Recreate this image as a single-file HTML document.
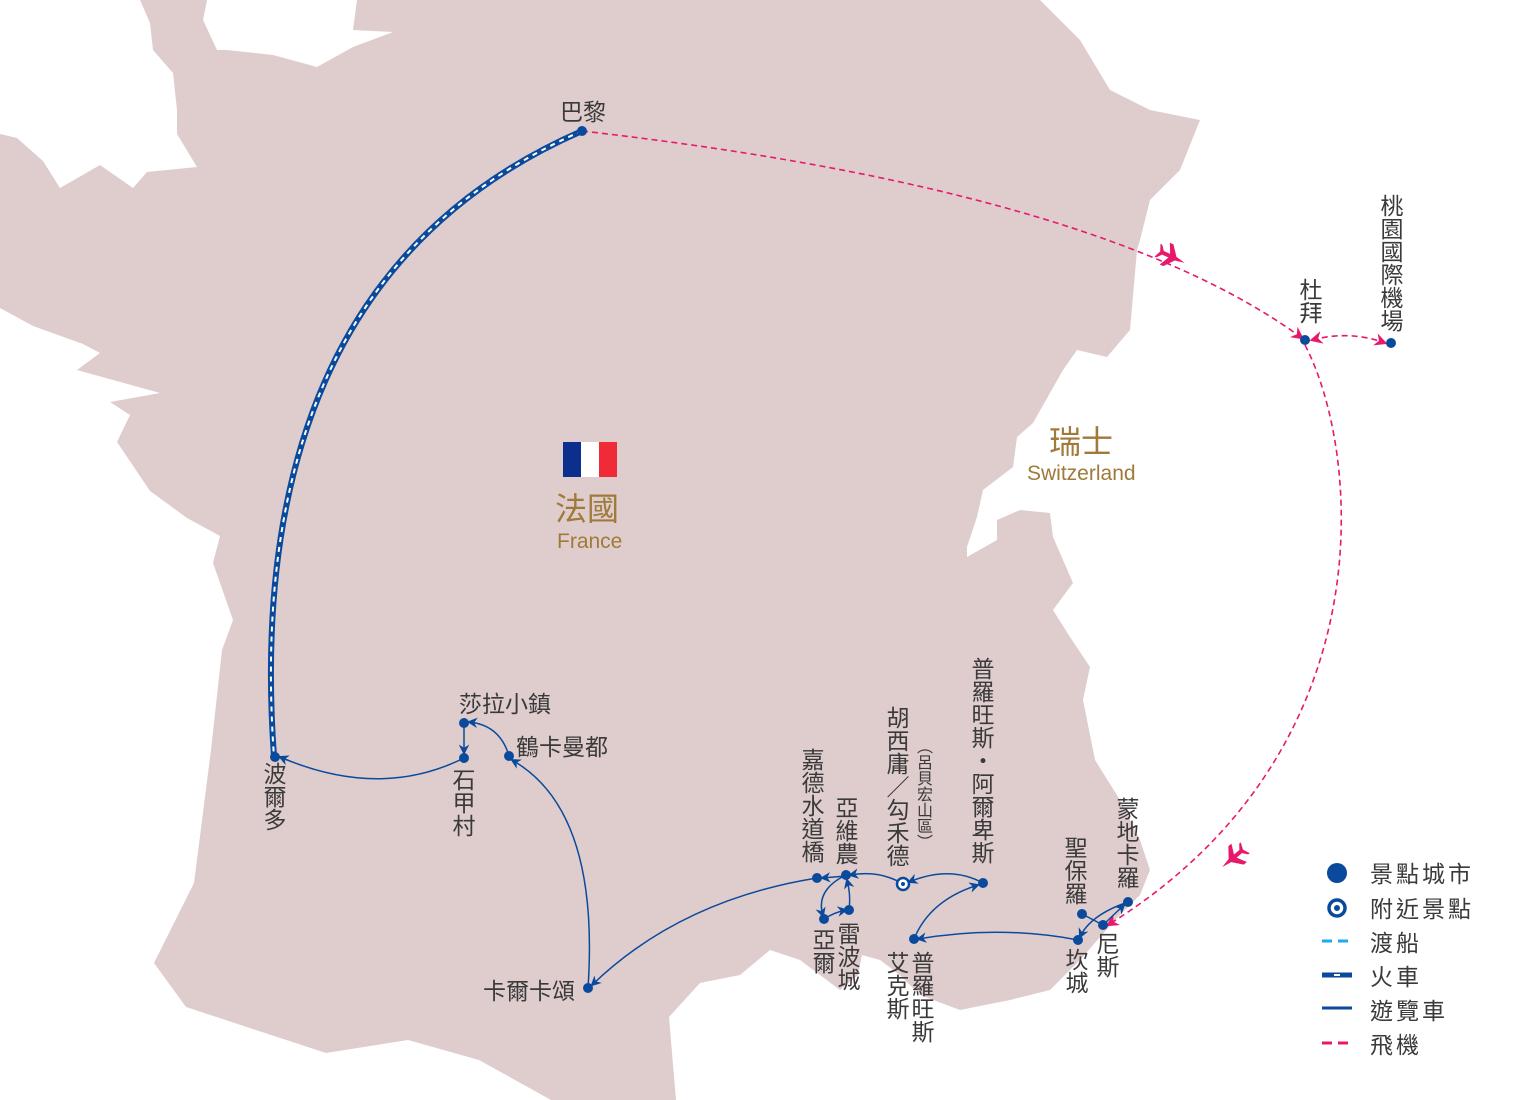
<!DOCTYPE html>
<html><head><meta charset="utf-8"><style>
body{margin:0;width:1514px;height:1100px;overflow:hidden;background:#fff;font-family:"Liberation Sans","Noto Sans CJK TC",sans-serif;}
.l{position:absolute;color:#3a3a3a;font-size:23px;line-height:24px;font-family:"Noto Sans CJK TC",sans-serif;}
.v{writing-mode:vertical-rl;}
.g{position:absolute;color:#a07a3a;font-family:"Noto Sans CJK TC",sans-serif;}
</style></head><body>
<svg width="1514" height="1100" style="position:absolute;left:0;top:0">
<defs>
<marker id="ab" viewBox="0 0 10 10" refX="8" refY="5" markerWidth="7" markerHeight="7" orient="auto"><path d="M0,0L10,5L0,10L3,5z" fill="#0a4a9c"/></marker>
<marker id="ap" viewBox="0 0 10 10" refX="8" refY="5" markerWidth="8" markerHeight="8" orient="auto"><path d="M0,0L10,5L0,10L3,5z" fill="#e8196b"/></marker>
<marker id="aps" viewBox="0 0 10 10" refX="2" refY="5" markerWidth="8" markerHeight="8" orient="auto"><path d="M10,0L0,5L10,10L7,5z" fill="#e8196b"/></marker>
</defs>
<path fill="#dfcdce" d="M140,0 L207,0 L203,20 L217,50 L227,50 L273,55 L317,67 L353,47 L393,32 L353,30 L357,0 L1040,0 L1080,40 L1110,90 L1150,110 L1200,120 L1180,170 L1150,200 L1140,240 L1137,250 L1130,330 L1107,357 L1077,350 L1063,370 L1033,423 L1017,437 L1013,467 L983,490 L977,517 L967,547 L967,557 L997,540 L997,520 L1020,510 L1050,513 L1053,537 L1073,583 L1053,610 L1070,637 L1090,667 L1083,700 L1095,760 L1120,800 L1140,840 L1150,870 L1140,895 L1115,920 L1080,960 L1050,990 L1010,1000 L960,1010 L920,995 L900,975 L880,960 L862,955 L858,975 L840,990 L800,960 L770,950 L740,975 L700,983 L669,1017 L676,1100 L551,1100 L533,1090 L479,1060 L408,1040 L326,1053 L265,1033 L186,1007 L154,963 L194,883 L211,750 L222,650 L233,620 L213,563 L220,536 L187,518 L150,491 L117,442 L130,415 L110,402 L160,393 L113,380 L77,370 L100,353 L83,344 L33,326 L0,308 L0,134 L17,138 L43,161 L60,188 L100,165 L133,188 L147,172 L197,167 L177,134 L177,110 L173,73 L153,50 L150,23 Z"/>
<path d="M582,131 Q240,280 274,757" fill="none" stroke="#0a4a9c" stroke-width="6"/>
<path d="M582,131 Q240,280 274,757" fill="none" stroke="#fff" stroke-width="2" stroke-dasharray="5,5"/>
<g fill="none" stroke="#e8196b" stroke-width="1.6" stroke-dasharray="6,4">
<path d="M582,131 Q1100,190 1302,338" marker-end="url(#ap)"/>
<path d="M1312,340 Q1350,330 1385,343" marker-start="url(#aps)" marker-end="url(#ap)"/>
<path d="M1305,345 C1360,450 1390,750 1108,925" marker-end="url(#ap)"/>
</g>
<g fill="#e8196b">
<path transform="translate(1172,257) rotate(25)" d="M14,0 L4,-2 L-4,-12 L-8,-12 L-3,-2 L-10,-2 L-14,-7 L-16,-7 L-13,0 L-16,7 L-14,7 L-10,2 L-3,2 L-8,12 L-4,12 L4,2 Z"/>
<path transform="translate(1233,858) rotate(140)" d="M14,0 L4,-2 L-4,-12 L-8,-12 L-3,-2 L-10,-2 L-14,-7 L-16,-7 L-13,0 L-16,7 L-14,7 L-10,2 L-3,2 L-8,12 L-4,12 L4,2 Z"/>
</g>
<g fill="none" stroke="#0a4a9c" stroke-width="1.5" marker-end="url(#ab)">
<path d="M1103,925 L1124,905"/>
<path d="M1128,902 Q1090,915 1080,937"/>
<path d="M1078,940 Q1000,925 918,939"/>
<path d="M914,939 Q930,900 978,885"/>
<path d="M983,883 Q950,865 909,882"/>
<path d="M903,884 Q880,870 850,875"/>
<path d="M846,875 Q815,890 823,916"/>
<path d="M824,919 Q835,912 846,910"/>
<path d="M849,910 Q851,895 847,880"/>
<path d="M846,876 L822,878"/>
<path d="M817,878 Q680,900 592,985"/>
<path d="M588,988 Q600,810 512,760"/>
<path d="M509,756 Q500,725 469,722"/>
<path d="M464,723 L464,753"/>
<path d="M464,758 Q380,800 280,757"/>
</g>
<path d="M1082,914 L1103,925" stroke="#0a4a9c" stroke-width="1.5"/>
<g fill="#0a4a9c">
<circle cx="582" cy="131" r="5"/><circle cx="275" cy="757" r="5"/><circle cx="464" cy="723" r="5"/><circle cx="464" cy="758" r="5"/><circle cx="509" cy="756" r="5"/><circle cx="588" cy="988" r="5"/><circle cx="817" cy="878" r="5"/><circle cx="846" cy="875" r="5"/><circle cx="824" cy="919" r="5"/><circle cx="849" cy="910" r="5"/><circle cx="983" cy="883" r="5"/><circle cx="914" cy="939" r="5"/><circle cx="1078" cy="940" r="5"/><circle cx="1082" cy="914" r="5"/><circle cx="1103" cy="925" r="5"/><circle cx="1128" cy="902" r="5"/><circle cx="1305" cy="340" r="5"/><circle cx="1391" cy="343" r="5"/>
<circle cx="1337" cy="873" r="10"/>
</g>
<circle cx="903" cy="884" r="6" fill="#fff" stroke="#0a4a9c" stroke-width="2.5"/><circle cx="903" cy="884" r="2" fill="#0a4a9c"/>
<circle cx="1337" cy="908" r="8" fill="#fff" stroke="#0a4a9c" stroke-width="3.5"/><circle cx="1337" cy="908" r="3" fill="#0a4a9c"/>
<rect x="563" y="442" width="18" height="35" fill="#0c2f8e"/><rect x="581" y="442" width="18" height="35" fill="#fff"/><rect x="599" y="442" width="18" height="35" fill="#ee2b37"/>
<line x1="1322" y1="941" x2="1352" y2="941" stroke="#1eaaf1" stroke-width="3" stroke-dasharray="10,6"/>
<line x1="1322" y1="975" x2="1352" y2="975" stroke="#0a4a9c" stroke-width="5"/><rect x="1334" y="974" width="6" height="2" fill="#fff"/>
<line x1="1322" y1="1008" x2="1352" y2="1008" stroke="#0a4a9c" stroke-width="3"/>
<line x1="1322" y1="1043" x2="1352" y2="1043" stroke="#e8196b" stroke-width="3" stroke-dasharray="10,6"/>
</svg>
<div class="l" style="left:560px;top:98px">巴黎</div>
<div class="l v" style="left:263px;top:762px">波爾多</div>
<div class="l" style="left:459px;top:690px">莎拉小鎮</div>
<div class="l v" style="left:452px;top:768px">石甲村</div>
<div class="l" style="left:516px;top:733px">鶴卡曼都</div>
<div class="l" style="left:483px;top:977px">卡爾卡頌</div>
<div class="l v" style="left:801px;top:748px">嘉德水道橋</div>
<div class="l v" style="left:835px;top:796px">亞維農</div>
<div class="l v" style="left:812px;top:928px">亞爾</div>
<div class="l v" style="left:837px;top:922px">雷波城</div>
<div class="l v" style="left:886px;top:706px">胡西庸／勾禾德</div>
<div class="l v" style="left:913px;top:738px;font-size:16px">（呂貝宏山區）</div>
<div class="l v" style="left:971px;top:657px">普羅旺斯・阿爾卑斯</div>
<div class="l v" style="left:886px;top:951px">艾克斯</div>
<div class="l v" style="left:911px;top:951px">普羅旺斯</div>
<div class="l v" style="left:1064px;top:836px">聖保羅</div>
<div class="l v" style="left:1116px;top:797px">蒙地卡羅</div>
<div class="l v" style="left:1065px;top:948px">坎城</div>
<div class="l v" style="left:1096px;top:932px">尼斯</div>
<div class="l v" style="left:1299px;top:278px">杜拜</div>
<div class="l v" style="left:1380px;top:194px">桃園國際機場</div>
<div class="g" style="left:555px;top:484px;font-size:32px">法國</div>
<div class="g" style="left:557px;top:530px;font-size:21px;font-family:'Liberation Sans',sans-serif">France</div>
<div class="g" style="left:1049px;top:417px;font-size:32px">瑞士</div>
<div class="g" style="left:1027px;top:462px;font-size:21px;font-family:'Liberation Sans',sans-serif">Switzerland</div>
<div class="l" style="left:1370px;top:860px;font-size:23px;letter-spacing:3px">景點城市</div>
<div class="l" style="left:1370px;top:895px;font-size:23px;letter-spacing:3px">附近景點</div>
<div class="l" style="left:1370px;top:929px;font-size:23px;letter-spacing:3px">渡船</div>
<div class="l" style="left:1370px;top:963px;font-size:23px;letter-spacing:3px">火車</div>
<div class="l" style="left:1370px;top:997px;font-size:23px;letter-spacing:3px">遊覽車</div>
<div class="l" style="left:1370px;top:1031px;font-size:23px;letter-spacing:3px">飛機</div>
</body></html>
